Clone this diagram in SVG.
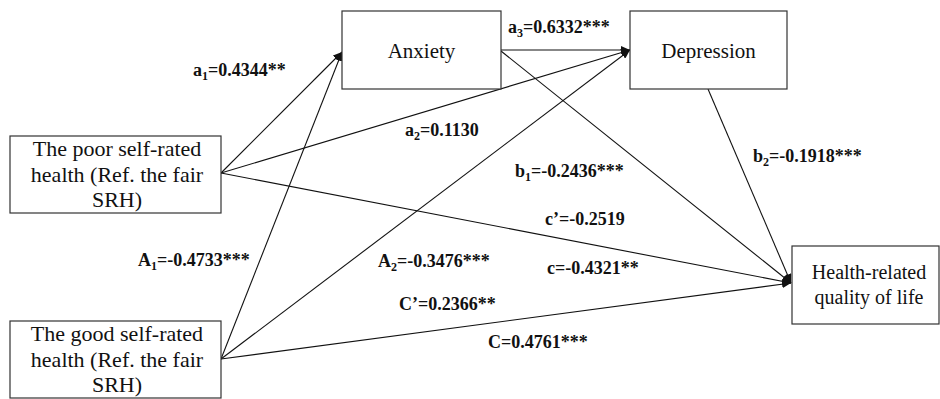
<svg xmlns="http://www.w3.org/2000/svg" width="940" height="399" viewBox="0 0 940 399">
<style>
.box{fill:#fff;stroke:#333;stroke-width:1.2}
.nt{font-family:"Liberation Serif","Times New Roman",serif;font-size:21px;fill:#111;text-anchor:middle}
.st{font-size:22px}
.lb{font-family:"Liberation Serif","Times New Roman",serif;font-size:18px;font-weight:bold;fill:#111}
.ln{stroke:#111;stroke-width:1.1;fill:none;marker-end:url(#ah)}
</style>
<defs>
<marker id="ah" markerUnits="userSpaceOnUse" markerWidth="10" markerHeight="8" refX="9" refY="4" orient="auto">
<path d="M0,0 L9,4 L0,8 Z" fill="#111"/>
</marker>
</defs>
<rect width="940" height="399" fill="#fff"/>
<g id="connectors">
<line class="ln" x1="221" y1="173" x2="342" y2="52"/>
<line class="ln" x1="221" y1="173" x2="630" y2="50"/>
<line class="ln" x1="221" y1="173" x2="791" y2="283"/>
<line class="ln" x1="221" y1="359" x2="342" y2="52"/>
<line class="ln" x1="221" y1="359" x2="630" y2="50"/>
<line class="ln" x1="221" y1="359" x2="791" y2="283"/>
<line class="ln" x1="501" y1="50" x2="630" y2="50"/>
<line class="ln" x1="501" y1="51" x2="791" y2="283"/>
<line class="ln" x1="708" y1="89" x2="791" y2="283"/>
</g>
<g id="anxiety">
<rect class="box" x="342" y="11" width="159" height="78"/>
<text class="nt" x="421.5" y="58">Anxiety</text>
</g>
<g id="depression">
<rect class="box" x="630" y="11" width="157" height="78"/>
<text class="nt" x="708.5" y="58">Depression</text>
</g>
<g id="poor">
<rect class="box" x="10" y="136" width="211" height="77"/>
<text class="nt st" x="117" y="156">The poor self-rated</text>
<text class="nt st" x="117" y="182">health (Ref. the fair</text>
<text class="nt st" x="117" y="207">SRH)</text>
</g>
<g id="good">
<rect class="box" x="10" y="321" width="211" height="77"/>
<text class="nt st" x="117" y="341">The good self-rated</text>
<text class="nt st" x="117" y="367">health (Ref. the fair</text>
<text class="nt st" x="117" y="392">SRH)</text>
</g>
<g id="hrqol">
<rect class="box" x="792" y="246" width="147" height="78"/>
<text class="nt" x="869" y="279" style="font-size:20px">Health-related</text>
<text class="nt" x="869" y="304" style="font-size:20px">quality of life</text>
</g>
<g id="labels">
<text class="lb" x="193" y="76">a<tspan font-size="12" dy="4">1</tspan><tspan dy="-4">=0.4344**</tspan></text>
<text class="lb" x="405" y="136">a<tspan font-size="12" dy="4">2</tspan><tspan dy="-4">=0.1130</tspan></text>
<text class="lb" x="508" y="33">a<tspan font-size="12" dy="4">3</tspan><tspan dy="-4">=0.6332***</tspan></text>
<text class="lb" x="515" y="177">b<tspan font-size="12" dy="4">1</tspan><tspan dy="-4">=-0.2436***</tspan></text>
<text class="lb" x="753" y="162">b<tspan font-size="12" dy="4">2</tspan><tspan dy="-4">=-0.1918***</tspan></text>
<text class="lb" x="545" y="225">c’=-0.2519</text>
<text class="lb" x="547" y="274">c=-0.4321**</text>
<text class="lb" x="138" y="266">A<tspan font-size="12" dy="4">1</tspan><tspan dy="-4">=-0.4733***</tspan></text>
<text class="lb" x="378" y="267">A<tspan font-size="12" dy="4">2</tspan><tspan dy="-4">=-0.3476***</tspan></text>
<text class="lb" x="399" y="310">C’=0.2366**</text>
<text class="lb" x="488" y="348">C=0.4761***</text>
</g>
</svg>
